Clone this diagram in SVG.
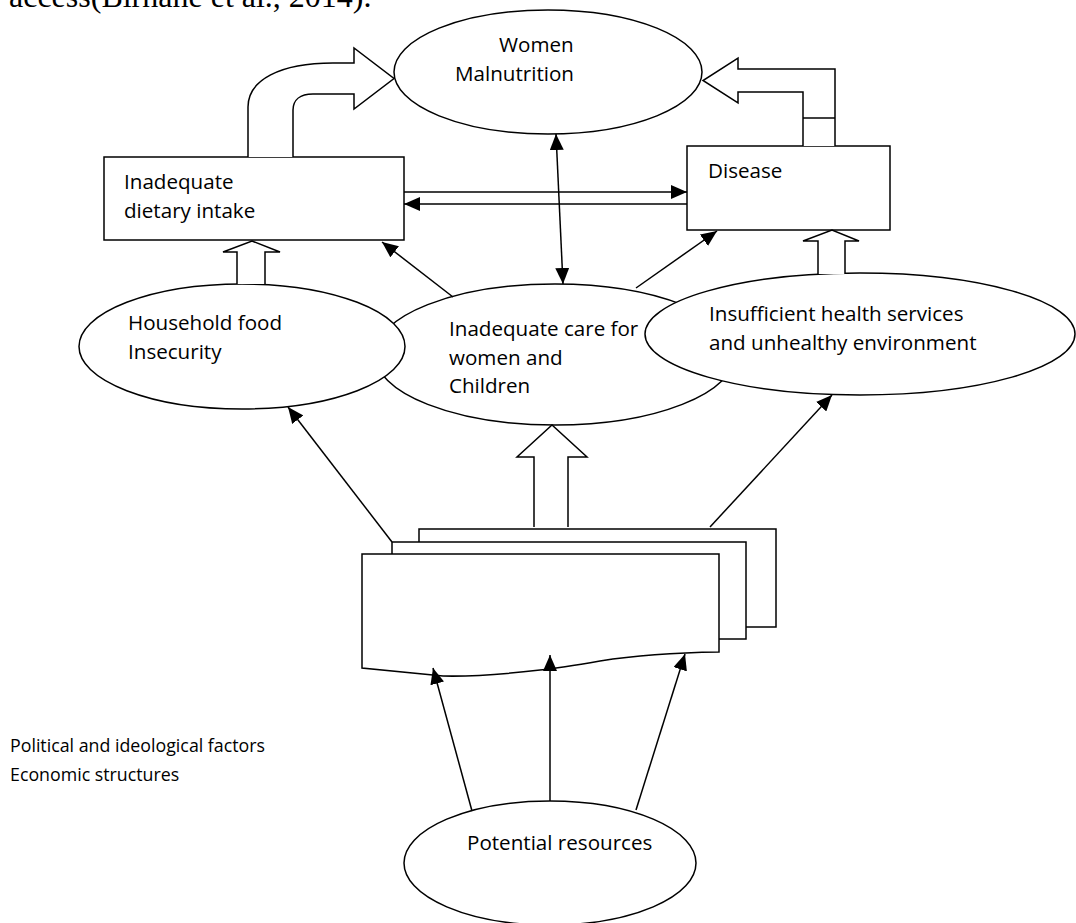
<svg xmlns="http://www.w3.org/2000/svg" width="1076" height="923" viewBox="0 0 1076 923">
<style>
.n{fill:#fff;stroke:#000;stroke-width:1.5}
.t{font-family:"Open Sans","Noto Sans",sans-serif;font-size:20.6px;fill:#000}
.s{font-family:"Open Sans","Noto Sans",sans-serif;font-size:17.8px;fill:#000}
.c{fill:none;stroke:#000;stroke-width:1.5}
.b{fill:#fff;stroke:#000;stroke-width:1.5;stroke-linejoin:miter}
</style>
<defs>
<marker id="ah" viewBox="0 0 16 14" refX="16" refY="7" markerWidth="16" markerHeight="14" markerUnits="userSpaceOnUse" orient="auto-start-reverse"><path d="M0,0 L16,7 L0,14 z" fill="#000"/></marker>
</defs>
<rect width="1076" height="923" fill="#fff"/>
<text x="9" y="7" font-family="Liberation Serif, serif" font-size="32" fill="#000">access(Birhane et al., 2014).</text>

<g id="women">
<ellipse class="n" cx="548" cy="72" rx="154" ry="62"/>
<text class="t" x="499" y="52">Women</text>
<text class="t" x="455" y="81">Malnutrition</text>
</g>
<g id="dietary">
<rect class="n" x="104" y="157" width="300" height="83"/>
<text class="t" x="124" y="189">Inadequate</text>
<text class="t" x="124" y="218">dietary intake</text>
</g>
<g id="disease">
<rect class="n" x="687" y="146" width="203" height="84"/>
<text class="t" x="708" y="178">Disease</text>
</g>
<g id="care">
<ellipse class="n" cx="555" cy="354.5" rx="180" ry="70.5"/>
<text class="t" x="449" y="336">Inadequate care for</text>
<text class="t" x="449" y="365">women and</text>
<text class="t" x="449" y="393">Children</text>
</g>
<g id="household">
<ellipse class="n" cx="242" cy="346.5" rx="163" ry="62.5"/>
<text class="t" x="128" y="330">Household food</text>
<text class="t" x="128" y="359">Insecurity</text>
</g>
<g id="insufficient">
<ellipse class="n" cx="860" cy="334" rx="215" ry="61"/>
<text class="t" x="709" y="321">Insufficient health services</text>
<text class="t" x="709" y="350">and unhealthy environment</text>
</g>
<g id="documents">
<rect class="n" x="419" y="529" width="357" height="98"/>
<rect class="n" x="392" y="542" width="354" height="97"/>
<path class="n" d="M362,554 H719 V652 Q650,653 600,661 Q560,668 540,670 Q480,677 443,676 L362,668 Z"/>
</g>
<g id="potential">
<ellipse class="n" cx="550" cy="863" rx="146" ry="62"/>
<text class="t" x="467" y="850">Potential resources</text>
</g>
<g id="factors">
<text class="s" x="10" y="752">Political and ideological factors</text>
<text class="s" x="10" y="781">Economic structures</text>
</g>

<g id="connectors">
<path class="b" d="M248,157 V107 C248,80 280,63 333,63 H354 V48 L394,78.5 L354,109 V94 H313 C300,94 293,100 293,110 V157"/>
<path class="b" d="M803,146 V92 H738 V103 L703,80.5 L738,58 V69 H835 V146"/>
<path class="c" d="M803,118 H835"/>
<path class="b" d="M237,284 V252 H223 L252,241 L280,252 H265 V284"/>
<path class="b" d="M818,274 V241 H803 L832,230 L859,241 H845 V274"/>
<path class="b" d="M534,527 V457 H517 L552,425 L587,457 H568 V527"/>
<line class="c" x1="556" y1="134" x2="563" y2="284" marker-start="url(#ah)" marker-end="url(#ah)"/>
<line class="c" x1="404" y1="192" x2="687" y2="192" marker-end="url(#ah)"/>
<line class="c" x1="687" y1="204" x2="404" y2="204" marker-end="url(#ah)"/>
<line class="c" x1="453" y1="297" x2="382" y2="242" marker-end="url(#ah)"/>
<line class="c" x1="636" y1="288" x2="717" y2="231" marker-end="url(#ah)"/>
<line class="c" x1="392" y1="542" x2="288" y2="407" marker-end="url(#ah)"/>
<line class="c" x1="710" y1="527" x2="832" y2="395" marker-end="url(#ah)"/>
<line class="c" x1="472" y1="811" x2="433" y2="668" marker-end="url(#ah)"/>
<line class="c" x1="550" y1="801" x2="550" y2="655" marker-end="url(#ah)"/>
<line class="c" x1="636" y1="810" x2="685" y2="654" marker-end="url(#ah)"/>
</g>
</svg>
